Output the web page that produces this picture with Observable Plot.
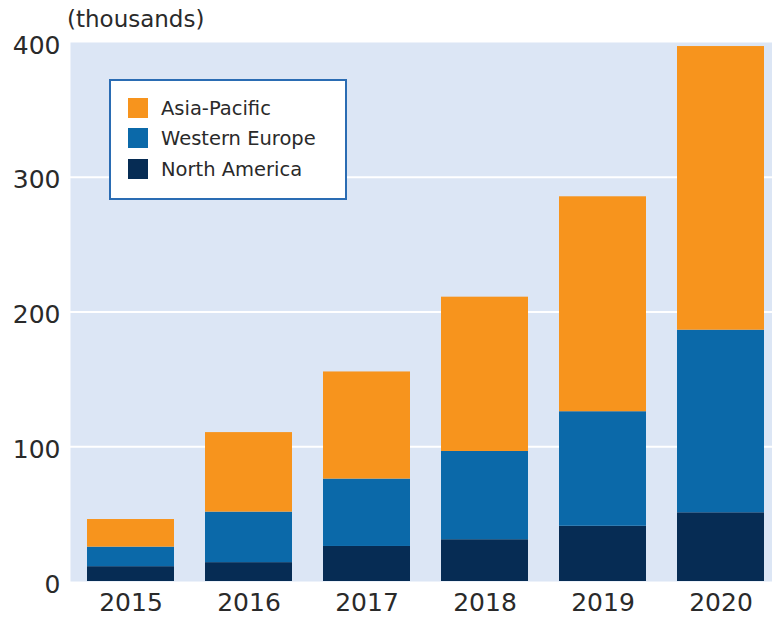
<!DOCTYPE html>
<html>
<head>
<meta charset="utf-8">
<script src="https://cdn.jsdelivr.net/npm/d3@7"></script>
<script src="https://cdn.jsdelivr.net/npm/@observablehq/plot@0.6"></script>
<style>
  html, body { margin: 0; padding: 0; background: #fff; overflow: hidden; }
  #wrap { position: relative; width: 772px; height: 619px; font-family: "DejaVu Sans", sans-serif; color: #2a2a2a; }
  #unit { position: absolute; left: 67px; top: 6px; font-size: 23px; color: #2a2a2a; }
  #legend { position: absolute; left: 109px; top: 79px; width: 238px; height: 121px; border: 2px solid #2a6cb3; background: #fff; box-sizing: border-box; }
  .row { position: absolute; left: 17px; height: 20px; display: flex; align-items: center; font-size: 19.5px; white-space: nowrap; }
  .sw { width: 20px; height: 20px; margin-right: 13px; flex: none; }
</style>
</head>
<body>
<div id="wrap"></div>
<script>
const years = ["2015", "2016", "2017", "2018", "2019", "2020"];
const seriesNames = ["Asia-Pacific", "Western Europe", "North America"];
const northAmerica = [11, 14, 26, 31, 41, 51];
const westernEurope = [14.5, 37.5, 50, 65.5, 85, 135.5];
const asiaPacific = [20.5, 59, 79.5, 114.5, 159.5, 210.5];
const yTicks = [0, 100, 200, 300, 400];
const gridTicks = [100, 200, 300];
const colors = ["#f7941d", "#0b69a9", "#062c54"];

const rows = [];
years.forEach((yr, i) => {
  rows.push({year: yr, series: "North America", value: northAmerica[i]});
  rows.push({year: yr, series: "Western Europe", value: westernEurope[i]});
  rows.push({year: yr, series: "Asia-Pacific", value: asiaPacific[i]});
});

const chart = Plot.plot({
  width: 772,
  height: 619,
  marginTop: 42,
  marginBottom: 38,
  marginLeft: 70,
  marginRight: 0,
  style: {fontFamily: "DejaVu Sans, sans-serif", fontSize: "25px", color: "#2a2a2a", background: "transparent", overflow: "visible"},
  x: {type: "band", domain: years, range: [69, 782], paddingInner: 0.263, paddingOuter: 0.13, label: null},
  y: {domain: [0, 400], label: null},
  color: {domain: seriesNames, range: colors},
  marks: [
    Plot.frame({fill: "#dce6f5", stroke: null}),
    Plot.gridY(gridTicks, {stroke: "#ffffff", strokeOpacity: 1, strokeWidth: 2}),
    Plot.barY(rows, {
      x: "year", y: "value", fill: "series",
      order: ["North America", "Western Europe", "Asia-Pacific"]
    }),
    Plot.axisX({tickSize: 0, tickPadding: 12, fontSize: 25, label: null}),
    Plot.axisY({ticks: yTicks, tickSize: 0, tickPadding: 10, fontSize: 25, dy: 3, label: null})
  ]
});

const wrap = document.getElementById("wrap");
wrap.appendChild(chart);

const unit = document.createElement("div");
unit.id = "unit";
unit.textContent = "(thousands)";
wrap.appendChild(unit);

const legend = document.createElement("div");
legend.id = "legend";
const tops = [17, 47, 78];
seriesNames.forEach((name, i) => {
  const r = document.createElement("div");
  r.className = "row";
  r.style.top = tops[i] + "px";
  const sw = document.createElement("span");
  sw.className = "sw";
  sw.style.background = colors[i];
  const t = document.createElement("span");
  t.textContent = name;
  r.appendChild(sw);
  r.appendChild(t);
  legend.appendChild(r);
});
wrap.appendChild(legend);
</script>
</body>
</html>
